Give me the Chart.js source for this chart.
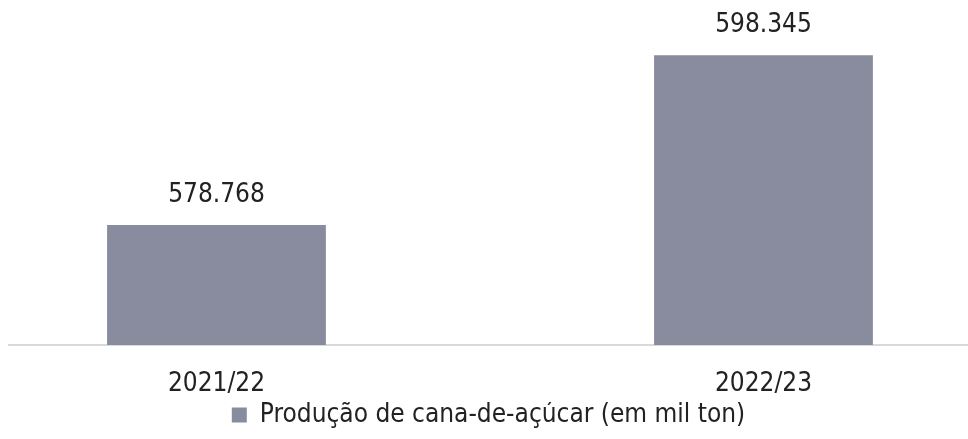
<!DOCTYPE html>
<html lang="pt-BR">
<head>
<meta charset="utf-8">
<title>Produção de cana-de-açúcar</title>
<script src="https://cdn.jsdelivr.net/npm/chart.js@4/dist/chart.umd.min.js"></script>
<style>
  html, body { margin: 0; padding: 0; background: #ffffff; }
  #wrap { width: 968px; height: 439px; position: relative; }
</style>
</head>
<body>
<div id="wrap"><canvas id="chart"></canvas></div>
<script>
// Safras e produção de cana-de-açúcar (mil toneladas)
const safras = ['2021/22', '2022/23'];
const producao = [578768, 598345];
const serieNome = 'Produção de cana-de-açúcar (em mil ton)';

const FONTE = "'DejaVu Sans Condensed', 'DejaVu Sans', sans-serif";
const COR_BARRA = '#888c9e';
const COR_TEXTO = '#222222';

// Número com ponto como separador de milhar (padrão brasileiro)
function formatarMilhar(v) {
  return String(Math.round(v)).replace(/\B(?=(\d{3})+(?!\d))/g, '.');
}

// Rótulo de valor acima de cada barra
const rotulosValor = {
  id: 'rotulosValor',
  afterDatasetsDraw(chart) {
    const ctx = chart.ctx;
    const meta = chart.getDatasetMeta(0);
    ctx.save();
    ctx.font = '26px ' + FONTE;
    ctx.fillStyle = COR_TEXTO;
    ctx.textAlign = 'center';
    ctx.textBaseline = 'middle';
    meta.data.forEach((bar, i) => {
      ctx.fillText(formatarMilhar(producao[i]), bar.x, bar.y - 30);
    });
    ctx.restore();
  }
};

new Chart(document.getElementById('chart'), {
  type: 'bar',
  data: {
    datasets: [{
      label: serieNome,
      data: safras.map((s, i) => ({ x: i, y: producao[i] })),
      backgroundColor: COR_BARRA,
      borderWidth: 0,
      categoryPercentage: 1,
      barPercentage: 0.4
    }]
  },
  options: {
    responsive: true,
    maintainAspectRatio: false,
    animation: false,
    layout: { padding: { top: 41, left: 9, right: 0, bottom: 1 } },
    scales: {
      x: {
        type: 'linear',
        min: -0.3793,
        max: 1.3739,
        offset: false,
        afterBuildTicks(scale) {
          scale.ticks = safras.map((s, i) => ({ value: i }));
        },
        afterFit(scale) { scale.height = 57; },
        grid: { display: false, drawTicks: false, offset: false },
        border: { display: true, color: '#d9d9d9', width: 2 },
        ticks: {
          padding: 23.4,
          autoSkip: false,
          maxRotation: 0,
          color: COR_TEXTO,
          font: { family: FONTE, size: 26 },
          callback: (v) => safras[v] ?? ''
        }
      },
      y: {
        display: false,
        min: 564900,
        max: 600000
      }
    },
    plugins: {
      legend: {
        display: true,
        position: 'bottom',
        labels: {
          boxWidth: 15,
          boxHeight: 15,
          padding: 0,
          color: COR_TEXTO,
          font: { family: FONTE, size: 26 }
        }
      },
      tooltip: { enabled: false }
    }
  },
  plugins: [rotulosValor]
});
</script>
</body>
</html>
